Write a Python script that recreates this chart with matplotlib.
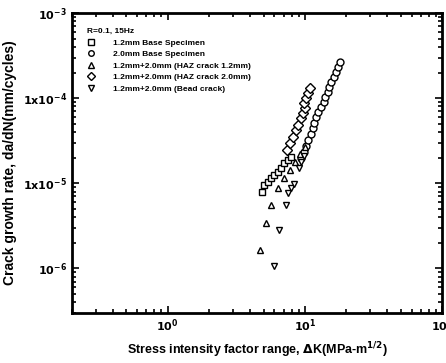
import matplotlib.pyplot as plt
from matplotlib.ticker import FixedLocator, LogLocator, NullFormatter

plt.rcParams['font.family'] = 'Liberation Sans'
plt.rcParams['font.weight'] = 'bold'
plt.rcParams['mathtext.default'] = 'bf'

# 1.2mm base specimen
dk_12 = [4.91, 5.0, 5.35, 5.62, 5.92, 6.33, 6.66, 7.01, 7.5, 7.89]
da_12 = [7.8e-6, 9.5e-6, 1.03e-5, 1.15e-5, 1.24e-5, 1.35e-5, 1.5e-5, 1.72e-5, 1.87e-5, 2.02e-5]

# 2.0mm base specimen
dk_20 = [9.35, 9.84, 10.2, 10.5, 11.1, 11.5, 11.6, 12.0, 12.5, 13.1, 13.8, 14.0, 14.8, 15.0, 15.5, 16.3, 16.9, 17.5, 18.1]
da_20 = [1.97e-5, 2.32e-5, 2.72e-5, 3.2e-5, 3.77e-5, 4.44e-5, 5.08e-5, 5.97e-5, 6.8e-5, 7.8e-5,
         8.97e-5, 1.03e-4, 1.18e-4, 1.35e-4, 1.54e-4, 1.77e-4, 2.02e-4, 2.32e-4, 2.65e-4]

# 1.2mm+2.0mm, HAZ crack 1.2mm
dk_haz12 = [4.75, 5.17, 5.62, 6.33, 7.01, 7.76, 8.44, 9.18, 10.0]
da_haz12 = [1.63e-6, 3.38e-6, 5.51e-6, 8.73e-6, 1.15e-5, 1.42e-5, 1.77e-5, 2.19e-5, 2.65e-5]

# 1.2mm+2.0mm, HAZ crack 2.0mm
dk_haz20 = [7.37, 7.76, 8.16, 8.59, 8.88, 9.35, 9.67, 10.0, 9.84, 10.2, 10.5, 10.9]
da_haz20 = [2.44e-5, 2.96e-5, 3.48e-5, 4.2e-5, 4.81e-5, 5.82e-5, 6.66e-5, 7.6e-5, 8.73e-5, 1.0e-4, 1.15e-4, 1.31e-4]

# 1.2mm+2.0mm, bead crack
dk_bead = [5.92, 6.44, 7.25, 7.5, 7.89, 8.3, 9.03, 9.35, 9.84]
da_bead = [1.08e-6, 2.8e-6, 5.51e-6, 7.63e-6, 8.73e-6, 9.73e-6, 1.5e-5, 1.77e-5, 2.08e-5]

y_ticks = [1e-6, 1e-5, 1e-4, 1e-3]
y_labels = ['$10^{-6}$', '$1x10^{-5}$', '$1x10^{-4}$', '$10^{-3}$']
x_ticks = [1, 10, 100]
x_labels = ['$10^{0}$', '$10^{1}$', '$10^{2}$']

fig = plt.figure(figsize=(4.46, 3.63), dpi=100)
ax = fig.add_axes([0.161, 0.138, 0.83, 0.826])

mk = dict(linestyle='none', mfc='white', mec='black', mew=1.0, ms=5)
ax.plot(dk_12, da_12, marker='s', label='1.2mm Base Specimen', **mk)
ax.plot(dk_20, da_20, marker='o', label='2.0mm Base Specimen', **mk)
ax.plot(dk_haz12, da_haz12, marker='^', label='1.2mm+2.0mm (HAZ crack 1.2mm)', **mk)
ax.plot(dk_haz20, da_haz20, marker='D', label='1.2mm+2.0mm (HAZ crack 2.0mm)', **mk)
ax.plot(dk_bead, da_bead, marker='v', label='1.2mm+2.0mm (Bead crack)', **mk)

ax.set_xscale('log')
ax.set_yscale('log')
ax.set_xlim(0.2, 100)
ax.set_ylim(3e-7, 1e-3)

ax.xaxis.set_major_locator(FixedLocator(x_ticks))
ax.set_xticklabels(x_labels)
ax.yaxis.set_major_locator(FixedLocator(y_ticks))
ax.set_yticklabels(y_labels)
ax.xaxis.set_minor_locator(LogLocator(base=10, subs=range(2, 10)))
ax.yaxis.set_minor_locator(LogLocator(base=10, subs=range(2, 10)))
ax.xaxis.set_minor_formatter(NullFormatter())
ax.yaxis.set_minor_formatter(NullFormatter())
ax.tick_params(which='both', direction='in', top=True, right=True, labelsize=8, width=1.2)
ax.tick_params(which='major', length=5)
ax.tick_params(which='minor', length=3)
for s in ax.spines.values():
    s.set_linewidth(2)

ax.set_xlabel('Stress intensity factor range, $\\Delta$K(MPa-m$^{1/2}$)', fontsize=9, fontweight='bold')
ax.set_ylabel('Crack growth rate, da/dN(mm/cycles)', fontsize=10, fontweight='bold')

leg = ax.legend(title='R=0.1, 15Hz', loc='upper left', frameon=False, fontsize=6,
                title_fontsize=6, handletextpad=2.2, labelspacing=0.45,
                borderaxespad=1.4, handlelength=1.0, markerscale=0.8)
leg._legend_box.align = 'left'
leg.get_title().set_fontweight('bold')

fig.savefig('out.png', dpi=100)
